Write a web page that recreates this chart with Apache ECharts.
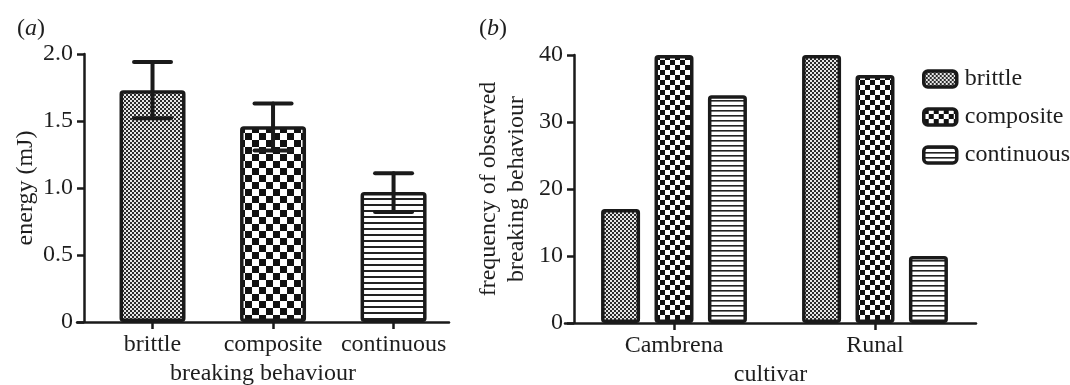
<!DOCTYPE html>
<html><head><meta charset="utf-8">
<script src="https://cdn.jsdelivr.net/npm/echarts@6/dist/echarts.min.js"></script>
<style>html,body{margin:0;padding:0;background:#fff}#c{width:1070px;height:385px}</style>
</head><body><div id="c"></div>
<script>
// ---- data ----
const categoriesA = ['brittle', 'composite', 'continuous'];
const energyMean  = [1.73, 1.46, 0.97];
const energyUpper = [1.94, 1.63, 1.11];
const energyLower = [1.52, 1.28, 0.82];
const yTicksA = ['0', '0.5', '1.0', '1.5', '2.0'];

const cultivars = ['Cambrena', 'Runal'];
const brittleCounts    = [17, 40];
const compositeCounts  = [40, 37];
const continuousCounts = [34, 10];
const yTicksB = ['0', '10', '20', '30', '40'];

// ---- patterns ----
function checker(sq, dark, light) {
  const c = document.createElement('canvas');
  c.width = c.height = sq * 2;
  const g = c.getContext('2d');
  g.fillStyle = light; g.fillRect(0, 0, sq * 2, sq * 2);
  g.fillStyle = dark; g.fillRect(0, 0, sq, sq); g.fillRect(sq, sq, sq, sq);
  return { image: c, repeat: 'repeat' };
}
function stripes(period, thick, dark, light) {
  const c = document.createElement('canvas');
  c.width = 8; c.height = period;
  const g = c.getContext('2d');
  g.fillStyle = light; g.fillRect(0, 0, 8, period);
  g.fillStyle = dark; g.fillRect(0, 0, 8, thick);
  return { image: c, repeat: 'repeat' };
}
const patA = [checker(2, '#2b2b2b', '#e6e6e6'), checker(7, '#111', '#fff'), stripes(6, 2, '#222', '#fff')];
const patB = [checker(2, '#2b2b2b', '#e6e6e6'), checker(5, '#111', '#fff'), stripes(5, 1.6, '#222', '#fff')];

const FONT = 'Liberation Serif';
const INK = '#1a1a1a';
const TXT = '#1e1e1e';
const FS = 24;
const border = { borderColor: INK, borderWidth: 3.5, borderRadius: 2 };
const lbl = { fontFamily: FONT, fontSize: FS, color: TXT };
const richI = { i: { fontStyle: 'italic', fontFamily: FONT, fontSize: FS, color: TXT } };

const chart = echarts.init(document.getElementById('c'));
chart.setOption({
  animation: false,
  backgroundColor: '#fff',
  title: [
    { text: '({i|a})', left: 12, top: 12, textStyle: Object.assign({ fontWeight: 'normal', rich: richI }, lbl) },
    { text: '({i|b})', left: 474, top: 12, textStyle: Object.assign({ fontWeight: 'normal', rich: richI }, lbl) }
  ],
  legend: {
    data: categoriesA,
    orient: 'vertical', left: 922, top: 67, padding: 0,
    itemWidth: 33, itemHeight: 16, itemGap: 14,
    icon: 'roundRect',
    itemStyle: { borderColor: INK, borderWidth: 3.5 },
    textStyle: Object.assign({ padding: [0, 0, 0, 3] }, lbl)
  },
  grid: [
    { left: 77, right: 621, top: 54, bottom: 63, outerBoundsMode: 'none', containLabel: false },
    { left: 565, right: 94, top: 55, bottom: 62, outerBoundsMode: 'none', containLabel: false }
  ],
  xAxis: [
    {
      gridIndex: 0, type: 'value', min: -0.6266, max: 2.46,
      axisLine: { show: true, onZero: false, lineStyle: { color: INK, width: 2.5 } },
      axisTick: { show: true, customValues: [0, 1, 2], length: 7, lineStyle: { color: INK, width: 2.5 } },
      axisLabel: { customValues: [0, 1, 2], formatter: v => categoriesA[v], margin: 11, ...lbl },
      splitLine: { show: false },
      name: 'breaking behaviour', nameLocation: 'middle', nameGap: 39, nameTextStyle: lbl
    },
    {
      gridIndex: 1, type: 'value', min: -0.5423, max: 1.5025,
      axisLine: { show: true, onZero: false, lineStyle: { color: INK, width: 2.5 } },
      axisTick: { show: true, customValues: [0, 1], length: 7, lineStyle: { color: INK, width: 2.5 } },
      axisLabel: { customValues: [0, 1], formatter: v => cultivars[v], margin: 11, ...lbl },
      splitLine: { show: false },
      name: 'cultivar', nameLocation: 'middle', nameGap: 39, nameTextStyle: lbl
    }
  ],
  yAxis: [
    {
      gridIndex: 0, type: 'value', min: 0, max: 2, interval: 0.5, offset: -7,
      axisLine: { show: true, onZero: false, lineStyle: { color: INK, width: 2.5 } },
      axisTick: { show: true, length: 7, lineStyle: { color: INK, width: 2.5 } },
      axisLabel: { formatter: (v, i) => yTicksA[i], margin: 11, ...lbl },
      splitLine: { show: false },
      name: 'energy (mJ)', nameLocation: 'middle', nameGap: 46, nameTextStyle: lbl
    },
    {
      gridIndex: 1, type: 'value', min: 0, max: 40, interval: 10, offset: -9,
      axisLine: { show: true, onZero: false, lineStyle: { color: INK, width: 2.5 } },
      axisTick: { show: true, length: 7, lineStyle: { color: INK, width: 2.5 } },
      axisLabel: { formatter: (v, i) => yTicksB[i], margin: 11, ...lbl },
      splitLine: { show: false },
      name: 'frequency of observed\nbreaking behaviour', nameLocation: 'middle', nameGap: 43,
      nameTextStyle: Object.assign({ lineHeight: 28 }, lbl)
    }
  ],
  series: [
    {
      name: 'energy', type: 'bar', xAxisIndex: 0, yAxisIndex: 0, barWidth: 66,
      data: energyMean.map((v, i) => ({ value: [i, v], itemStyle: { color: patA[i] } })),
      itemStyle: border
    },
    {
      name: 'energy error', type: 'custom', xAxisIndex: 0, yAxisIndex: 0, z: 5,
      data: energyMean.map((v, i) => [i, energyLower[i], energyUpper[i]]),
      encode: { x: 0, y: [1, 2] },
      renderItem: function (params, api) {
        const lo = api.coord([api.value(0), api.value(1)]);
        const hi = api.coord([api.value(0), api.value(2)]);
        const h = 18.5;
        const st = { stroke: INK, lineWidth: 4, lineCap: 'round' };
        return {
          type: 'group', children: [
            { type: 'line', shape: { x1: hi[0], y1: hi[1], x2: lo[0], y2: lo[1] }, style: st },
            { type: 'line', shape: { x1: hi[0] - h, y1: hi[1], x2: hi[0] + h, y2: hi[1] }, style: st },
            { type: 'line', shape: { x1: lo[0] - h, y1: lo[1], x2: lo[0] + h, y2: lo[1] }, style: st }
          ]
        };
      }
    },
    {
      name: categoriesA[0], type: 'bar', xAxisIndex: 1, yAxisIndex: 1, barWidth: 39, barGap: '37%',
      data: brittleCounts.map((v, i) => [i, v]),
      itemStyle: Object.assign({ color: patB[0] }, border)
    },
    {
      name: categoriesA[1], type: 'bar', xAxisIndex: 1, yAxisIndex: 1, barWidth: 39, barGap: '37%',
      data: compositeCounts.map((v, i) => [i, v]),
      itemStyle: Object.assign({ color: patB[1] }, border)
    },
    {
      name: categoriesA[2], type: 'bar', xAxisIndex: 1, yAxisIndex: 1, barWidth: 39, barGap: '37%',
      data: continuousCounts.map((v, i) => [i, v]),
      itemStyle: Object.assign({ color: patB[2] }, border)
    }
  ]
});
</script>
</body></html>
